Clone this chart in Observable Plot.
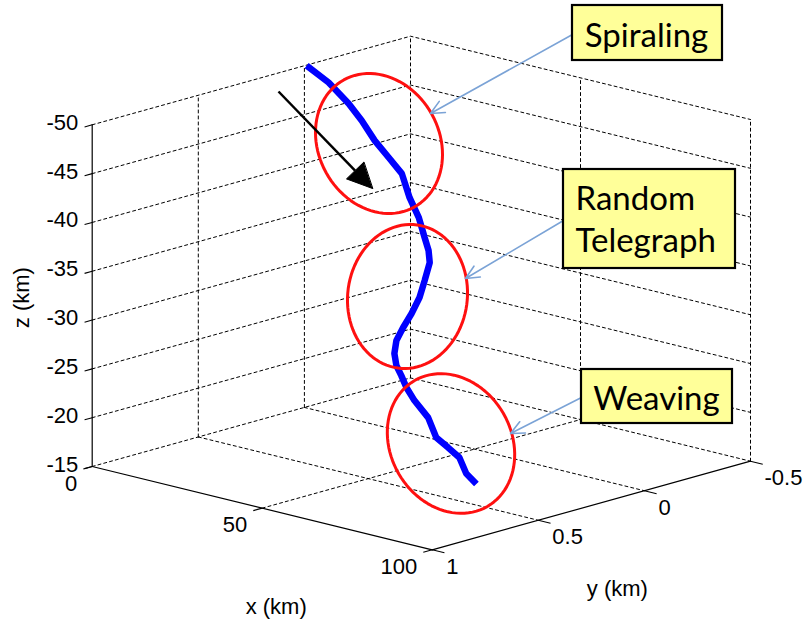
<!DOCTYPE html>
<html><head><meta charset="utf-8">
<script src="https://cdn.jsdelivr.net/npm/d3@7"></script>
<script src="https://cdn.jsdelivr.net/npm/@observablehq/plot@0.6"></script>
<style>html,body{margin:0;padding:0;background:#fff;} #chart svg{display:block;}</style>
</head><body><div id="chart"></div>
<script>
// ---------- DATA ----------
// 3D trajectory (km)
const trajX = [0.1, 3.5, 7.5, 10.6, 14.2, 17.3, 20.3, 24.2, 27.6, 30.8, 32.9, 34.8, 37.3, 39.6, 41.7, 43.4, 45.1, 47.0, 48.9, 50.6, 52.6, 54.9, 58.0, 61.3, 63.3, 65.3, 68.0, 70.0];
const trajY = [-0.009, -0.058, -0.088, -0.100, -0.104, -0.120, -0.134, -0.108, -0.097, -0.073, -0.058, -0.033, 0.031, 0.092, 0.163, 0.230, 0.289, 0.329, 0.350, 0.354, 0.362, 0.361, 0.346, 0.361, 0.337, 0.316, 0.327, 0.311];
const trajZ = [-49.97, -48.23, -46.23, -44.69, -42.91, -41.35, -39.87, -37.90, -36.21, -34.59, -33.53, -32.61, -31.36, -30.19, -29.16, -28.28, -27.45, -26.52, -25.58, -24.72, -23.72, -22.57, -21.00, -19.34, -18.33, -17.35, -16.01, -15.00];
// axes
const xTicks = [0, 50, 100];
const yTicks = [1, 0.5, 0, -0.5];
const zTicks = [-15, -20, -25, -30, -35, -40, -45, -50];
const xTickLabels = ["0", "50", "100"];
const yTickLabels = ["1", "0.5", "0", "-0.5"];
const zTickLabels = ["-15", "-20", "-25", "-30", "-35", "-40", "-45", "-50"];
const axisTitles = ["x (km)", "y (km)", "z (km)"];
const regimeLabels = ["Spiraling", "Random\nTelegraph", "Weaving"];

// ---------- LAYOUT (pixels) ----------
const W = 804, H = 622;
const ORIGIN = [91.7, 466], EX = [340, 83.3], EY = [318.3, -88.6], EZ = [0, -341.7];
const mk = (d, r) => Plot.scale({x: {domain: d, range: r}});
const sX = mk([0, 100], [0, 1]), sY = mk([1, -0.5], [0, 1]), sZ = mk([-15, -50], [0, 1]);
function P(x, y, z) {
  const a = sX.apply(x), b = sY.apply(y), c = sZ.apply(z);
  return [ORIGIN[0] + a * EX[0] + b * EY[0] + c * EZ[0], ORIGIN[1] + a * EX[1] + b * EY[1] + c * EZ[1]];
}
const xMin = 0, xMax = 100, yFront = 1, yBack = -0.5, zFloor = -15, zTop = -50;

// grid segments (dashed) on back walls and floor
const grid = [];
let gid = 0;
function seg(pts) { const id = gid++; pts.forEach(p => { const q = P(...p); grid.push({id, px: q[0], py: q[1]}); }); }
zTicks.forEach(z => seg([[xMin, yFront, z], [xMin, yBack, z], [xMax, yBack, z]]));
yTicks.filter(y => y !== yFront).forEach(y => seg([[xMin, y, zFloor], [xMin, y, zTop]]));
xTicks.filter(x => x !== xMin).forEach(x => seg([[x, yBack, zFloor], [x, yBack, zTop]]));
xTicks.filter(x => x !== xMin && x !== xMax).forEach(x => seg([[x, yFront, zFloor], [x, yBack, zFloor]]));
yTicks.filter(y => y !== yFront && y !== yBack).forEach(y => seg([[xMin, y, zFloor], [xMax, y, zFloor]]));

// solid axes
const axes = [];
[[[xMin, yFront, zFloor], [xMin, yFront, zTop]],
 [[xMin, yFront, zFloor], [xMax, yFront, zFloor]],
 [[xMax, yFront, zFloor], [xMax, yBack, zFloor]]].forEach((s, i) => s.forEach(p => { const q = P(...p); axes.push({id: i, px: q[0], py: q[1]}); }));

// ticks
const ticks = [];
zTicks.forEach(z => { const a = P(xMin, yFront, z), b = P(xMin, yFront + 0.036, z); ticks.push({x1: a[0], y1: a[1], x2: b[0], y2: b[1]}); });
xTicks.forEach(x => { const a = P(x, yFront, zFloor), b = P(x, yFront + 0.042, zFloor); ticks.push({x1: a[0], y1: a[1], x2: b[0], y2: b[1]}); });
yTicks.forEach(y => { const a = P(xMax, y, zFloor), b = P(xMax + 3.6, y, zFloor); ticks.push({x1: a[0], y1: a[1], x2: b[0], y2: b[1]}); });

const zLab = zTicks.map((z, i) => { const q = P(xMin, yFront, z); return {px: q[0] - 14, py: q[1] - 2, t: zTickLabels[i]}; });
const xLab = xTicks.map((x, i) => { const q = P(x, yFront, zFloor); return {px: q[0] - 15, py: q[1] + 17, t: xTickLabels[i]}; });
const yLab = yTicks.map((y, i) => { const q = P(xMax, y, zFloor); return {px: q[0] + 14, py: q[1] + 17, t: yTickLabels[i]}; });
const qx = P(50, yFront, zFloor), qy = P(xMax, 0.25, zFloor), qz = P(xMin, yFront, -32.5);
const titles = [
  {px: qx[0] + 14, py: qx[1] + 99, t: axisTitles[0], r: 0},
  {px: qy[0] + 26, py: qy[1] + 83, t: axisTitles[1], r: 0},
  {px: qz[0] - 70, py: qz[1] + 2, t: axisTitles[2], r: -90}
];

const traj = trajX.map((x, i) => { const q = P(x, trajY[i], trajZ[i]); return {px: q[0], py: q[1]}; });

// annotations (figure-pixel layout, like MATLAB annotation objects)
const ellipses = [
  {cx: 378.5, cy: 143, a: 72.7, b: 60.4, rot: -29},
  {cx: 407, cy: 296, a: 72.2, b: 59.8, rot: 7.6},
  {cx: 450.5, cy: 443, a: 72.7, b: 60.4, rot: -30}
];
const ellPts = [];
ellipses.forEach((e, k) => {
  const f = e.rot * Math.PI / 180;
  for (let i = 0; i < 96; i++) {
    const t = i / 96 * 2 * Math.PI, lx = e.b * Math.cos(t), ly = e.a * Math.sin(t);
    ellPts.push({id: k, px: e.cx + lx * Math.cos(f) - ly * Math.sin(f), py: e.cy + lx * Math.sin(f) + ly * Math.cos(f)});
  }
});
const boxes = [
  {x1: 572, x2: 722, y1: 5, y2: 60},
  {x1: 563, x2: 735, y1: 169, y2: 268},
  {x1: 581, x2: 732, y1: 369, y2: 423}
];
const [rtLine1, rtLine2] = regimeLabels[1].split("\n");
const centeredTexts = [
  {px: 646, py: 46, t: regimeLabels[0]},
  {px: 656, py: 409, t: regimeLabels[2]}
];
const leftTexts = [
  {px: 575, py: 209, t: rtLine1},
  {px: 575, py: 251, t: rtLine2}
];
const blueArrows = [
  {x1: 572, y1: 34, x2: 430, y2: 113},
  {x1: 563, y1: 220, x2: 465, y2: 278},
  {x1: 581, y1: 397, x2: 510, y2: 433}
];
const bk = {x1: 278, y1: 91, x2: 372, y2: 188, hl: 25, hw: 12};
const dxA = bk.x2 - bk.x1, dyA = bk.y2 - bk.y1, LA = Math.hypot(dxA, dyA), ux = dxA / LA, uy = dyA / LA;
const bx = bk.x2 - ux * bk.hl, by = bk.y2 - uy * bk.hl;
const shaft = [{x1: bk.x1, y1: bk.y1, x2: bx, y2: by}];
const head = [{px: bk.x2, py: bk.y2}, {px: bx - uy * bk.hw, py: by + ux * bk.hw}, {px: bx + uy * bk.hw, py: by - ux * bk.hw}];

const tickFont = "Liberation Sans, Arial, sans-serif";
const boxFont = "Lato, 'Open Sans', sans-serif";

const chart = Plot.plot({
  width: W, height: H, margin: 0,
  x: {domain: [0, W], range: [0, W], axis: null},
  y: {domain: [0, H], range: [0, H], axis: null},
  style: {background: "#fff"},
  marks: [
    Plot.line(grid, {x: "px", y: "py", z: "id", stroke: "#000", strokeWidth: 1, strokeDasharray: "3,3"}),
    Plot.line(axes, {x: "px", y: "py", z: "id", stroke: "#000", strokeWidth: 1.2}),
    Plot.link(ticks, {x1: "x1", y1: "y1", x2: "x2", y2: "y2", stroke: "#000", strokeWidth: 1.1}),
    Plot.text(zLab, {x: "px", y: "py", text: "t", textAnchor: "end", fontSize: 22, fontFamily: tickFont, fill: "#000"}),
    Plot.text(xLab, {x: "px", y: "py", text: "t", textAnchor: "end", fontSize: 22, fontFamily: tickFont, fill: "#000"}),
    Plot.text(yLab, {x: "px", y: "py", text: "t", textAnchor: "start", fontSize: 22, fontFamily: tickFont, fill: "#000"}),
    Plot.text(titles, {x: "px", y: "py", text: "t", rotate: "r", fontSize: 22, fontFamily: tickFont, fill: "#000"}),
    Plot.line(traj, {x: "px", y: "py", stroke: "#0000ff", strokeWidth: 6.5, strokeLinejoin: "miter", strokeLinecap: "butt"}),
    Plot.line(ellPts, {x: "px", y: "py", z: "id", stroke: "#ff1010", strokeWidth: 3, curve: "linear-closed"}),
    Plot.link(shaft, {x1: "x1", y1: "y1", x2: "x2", y2: "y2", stroke: "#000", strokeWidth: 2.5}),
    Plot.line(head, {x: "px", y: "py", fill: "#000", stroke: "#000", strokeWidth: 1, curve: "linear-closed"}),
    Plot.arrow(blueArrows, {x1: "x1", y1: "y1", x2: "x2", y2: "y2", stroke: "#7ba3d6", strokeWidth: 1.6, headLength: 14, headAngle: 50}),
    Plot.rect(boxes, {x1: "x1", x2: "x2", y1: "y1", y2: "y2", fill: "#ffff99", stroke: "#000", strokeWidth: 2.2}),
    Plot.text(centeredTexts, {x: "px", y: "py", text: "t", textAnchor: "middle", lineAnchor: "bottom", fontSize: 33, fontFamily: boxFont, fill: "#000"}),
    Plot.text(leftTexts, {x: "px", y: "py", text: "t", textAnchor: "start", lineAnchor: "bottom", fontSize: 33, fontFamily: boxFont, fill: "#000"})
  ]
});
document.getElementById("chart").appendChild(chart);
</script>
</body></html>
